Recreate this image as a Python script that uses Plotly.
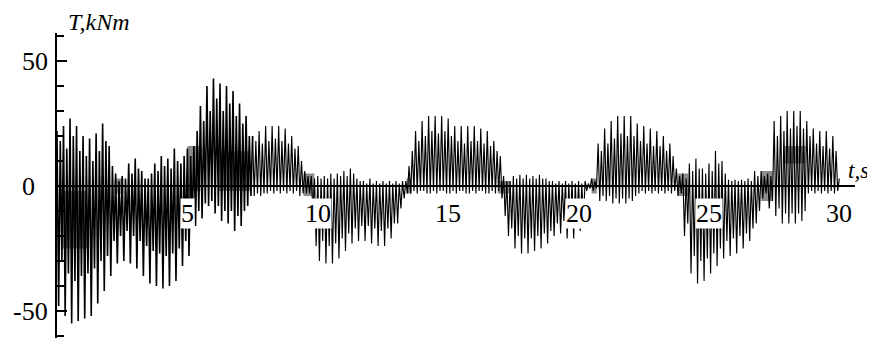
import plotly.graph_objects as go

# ---- data (torque T, kNm, vs time t, s) ----
# upper swing values, one row per second, at t = s + 0, 0.125, ..., 0.875 (last: t = 30)
peak_vals = [
    22, 18, 24, 15, 27, 20, 24, 14,        # 0 s
    20, 12, 19, 10, 21, 14, 25, 18,        # 1
    16, 8, 5, 2, 4, 3, 9, 5,               # 2
    11, 7, 6, 3, 3, 5, 9, 6,               # 3
    12, 8, 11, 7, 15, 10, 9, 12,           # 4
    15, 12, 16, 22, 32, 26, 40, 30,        # 5
    43, 35, 41, 30, 40, 33, 38, 28,        # 6
    33, 25, 28, 20, 20, 18, 22, 17,        # 7
    24, 18, 24, 19, 24, 18, 23, 17,        # 8
    20, 15, 16, 10, 6, 4, 4, 3,            # 9
    4, 3, 4, 3, 5, 3, 5, 4,                # 10
    6, 4, 7, 5, 3, 2, 2, 1,                # 11
    3, 1, 2, 1, 2, 1, 2, 1,                # 12
    2, 1, 2, 2, 8, 14, 22, 18,             # 13
    26, 20, 28, 22, 28, 21, 28, 22,        # 14
    27, 20, 24, 18, 24, 17, 24, 18,        # 15
    24, 18, 23, 17, 22, 16, 18, 14,        # 16
    12, 4, 2, 2, 4, 3, 4.5, 3,             # 17
    4.5, 3, 4, 3, 4.5, 3, 3, 2,            # 18
    2, 1, 2, 1, 2, 1, 2, 1,                # 19
    2, 1, 2, 1, 3, 2, 17, 14,              # 20
    23, 17, 26, 19, 28, 21, 28, 20,        # 21
    28, 20, 25, 18, 24, 17, 23, 16,        # 22
    22, 16, 20, 14, 17, 12, 7, 4,          # 23
    5, 3, 9, 6, 11, 7, 7, 5,               # 24
    9, 6, 14, 9, 10, 5, 2.5, 2,            # 25
    2.5, 2, 2.5, 2, 3, 2, 6, 4,            # 26
    6, 4, 5, 4, 26, 20, 28, 22,            # 27
    30, 23, 30, 24, 30, 23, 26, 20,        # 28
    23, 17, 22, 16, 22, 15, 20, 14,        # 29
    3,                                     # 30
]
# lower swing values, one row per second, at t = s + 0.0625, 0.1875, ..., 0.9375
trough_vals = [
    -48, -30, -52, -35, -55, -38, -54, -36,    # 0 s
    -53, -35, -52, -33, -47, -30, -42, -28,    # 1
    -36, -22, -31, -20, -30, -18, -31, -20,    # 2
    -33, -22, -36, -24, -39, -26, -40, -27,    # 3
    -41, -28, -40, -27, -38, -25, -32, -22,    # 4
    -28, -14, -16, -10, -13, -7, -8, -6,       # 5
    -11, -8, -14, -10, -15, -10, -18, -12,     # 6
    -16, -10, -8, -4, -4, -3, -4, -3,          # 7
    -3, -2, -3, -2, -3, -2, -3, -2,            # 8
    -3, -2, -4, -3, -3, -3, -10, -24,          # 9
    -30, -22, -31, -24, -31, -23, -29, -21,    # 10
    -26, -19, -23, -17, -22, -16, -22, -16,    # 11
    -23, -17, -24, -18, -24, -17, -21, -15,    # 12
    -15, -9, -5, -3, -3, -2, -3, -2,           # 13
    -2, -3, -3, -2, -3, -2, -2, -3,            # 14
    -3, -2, -3, -2, -2, -3, -3, -2,            # 15
    -3, -2, -2, -3, -3, -2, -3, -2,            # 16
    -5, -12, -20, -17, -25, -20, -27, -21,     # 17
    -27, -21, -26, -20, -25, -19, -23, -18,    # 18
    -20, -15, -19, -14, -21, -16, -21, -16,    # 19
    -18, -14, -2, -1, -2, -1, -6, -4,          # 20
    -6, -4, -7, -5, -7, -5, -7, -5,            # 21
    -6, -4, -3, -2, -3, -2, -3, -2,            # 22
    -3, -2, -3, -2, -3, -2, -4, -3,            # 23
    -20, -15, -35, -28, -39, -30, -38, -29,    # 24
    -35, -27, -32, -25, -29, -22, -28, -21,    # 25
    -27, -20, -25, -19, -22, -17, -15, -10,    # 26
    -5, -3, -9, -6, -12, -9, -15, -11,         # 27
    -15, -11, -15, -11, -14, -10, -3, -2,      # 28
    -3, -2, -3, -2, -3, -2, -3, -2,            # 29
]
peak_step = 0.125

# dense (dark) patches of the trace: start time, end time, low and high torque
dense_t_start = [0.2, 2.2, 5.0, 6.2, 9.45, 13.4, 16.9, 20.5, 23.8, 27.0, 27.9]
dense_t_end = [1.15, 2.55, 5.5, 7.4, 9.87, 13.6, 17.4, 20.7, 24.2, 27.45, 28.7]
dense_low = [-25, -3, -2, -2, -4, -3, -3, -3, -4, -6, 9]
dense_high = [-2, 3, 16, 14, 5, 3, 2, 3, 5, 6, 16]

x_ticks = [5, 10, 15, 20, 25, 30]
x_tick_text = ["5", "10", "15", "20", "25", "30"]
y_ticks = [50, 0, -50]
y_tick_text = ["50", "0", "-50"]

assert len(peak_vals) == 241 and len(trough_vals) == 240

t_vals, T_vals = [], []
for i, p in enumerate(peak_vals):
    t_vals.append(i * peak_step)
    T_vals.append(p)
    if i < len(trough_vals):
        t_vals.append(i * peak_step + peak_step / 2)
        T_vals.append(trough_vals[i])

split = t_vals.index(7.5)

px, py = [], []
for a, b, lo, hi in zip(dense_t_start, dense_t_end, dense_low, dense_high):
    px += [a, b, b, a, a, None]
    py += [lo, lo, hi, hi, lo, None]

fig = go.Figure()
fig.add_trace(go.Scatter(x=px, y=py, mode="lines", fill="toself",
                         fillcolor="rgba(0,0,0,0.45)", line=dict(width=0),
                         hoverinfo="skip"))
fig.add_trace(go.Scatter(x=t_vals[:split + 1], y=T_vals[:split + 1], mode="lines",
                         line=dict(color="black", width=1.6), hoverinfo="skip"))
fig.add_trace(go.Scatter(x=t_vals[split:], y=T_vals[split:], mode="lines",
                         line=dict(color="black", width=1.15), hoverinfo="skip"))

serif = "Liberation Serif"
ann = []
for v, s in zip(x_ticks, x_tick_text):
    ann.append(dict(x=v, y=0, xref="x", yref="y", text=s, showarrow=False,
                    yshift=-27, bgcolor="white", borderpad=0,
                    font=dict(family=serif, size=26, color="black")))
for v, s in zip(y_ticks, y_tick_text):
    if v == 0:
        ann.append(dict(x=0, y=v, xref="paper", yref="y", text=s, showarrow=False,
                        xanchor="center", xshift=-29,
                        font=dict(family=serif, size=26, color="black")))
    else:
        ann.append(dict(x=0, y=v, xref="paper", yref="y", text=s, showarrow=False,
                        xanchor="right", xshift=-7,
                        font=dict(family=serif, size=26, color="black")))
ann.append(dict(x=0, y=1, xref="paper", yref="paper", text="<i>T,kNm</i>", showarrow=False,
                xanchor="left", yanchor="middle", xshift=9, yshift=11,
                font=dict(family=serif, size=24, color="black")))
ann.append(dict(x=1, y=0, xref="paper", yref="y", text="<i>t,s</i>", showarrow=False,
                xanchor="left", yanchor="middle", xshift=-9, yshift=16,
                font=dict(family=serif, size=23, color="black")))

# page body has an 8px default margin, so the figure is 8px smaller and margins shifted
fig.update_layout(
    width=867, height=330,
    margin=dict(l=49, r=20, t=25, b=0),
    paper_bgcolor="white", plot_bgcolor="white",
    showlegend=False,
    annotations=ann,
    xaxis=dict(range=[0, 30.6], showgrid=False, zeroline=False, showline=False,
               showticklabels=False, ticks=""),
    yaxis=dict(range=[-60.8, 61.2], showgrid=False, showline=True, linecolor="black",
               linewidth=2, ticks="inside", tickvals=y_ticks, ticklen=10, tickwidth=1.5,
               tickcolor="black", showticklabels=False,
               minor=dict(dtick=10, ticks="inside", ticklen=7, tickwidth=1.5, tickcolor="black"),
               zeroline=True, zerolinecolor="black", zerolinewidth=2),
)

fig.write_html("out.html")
